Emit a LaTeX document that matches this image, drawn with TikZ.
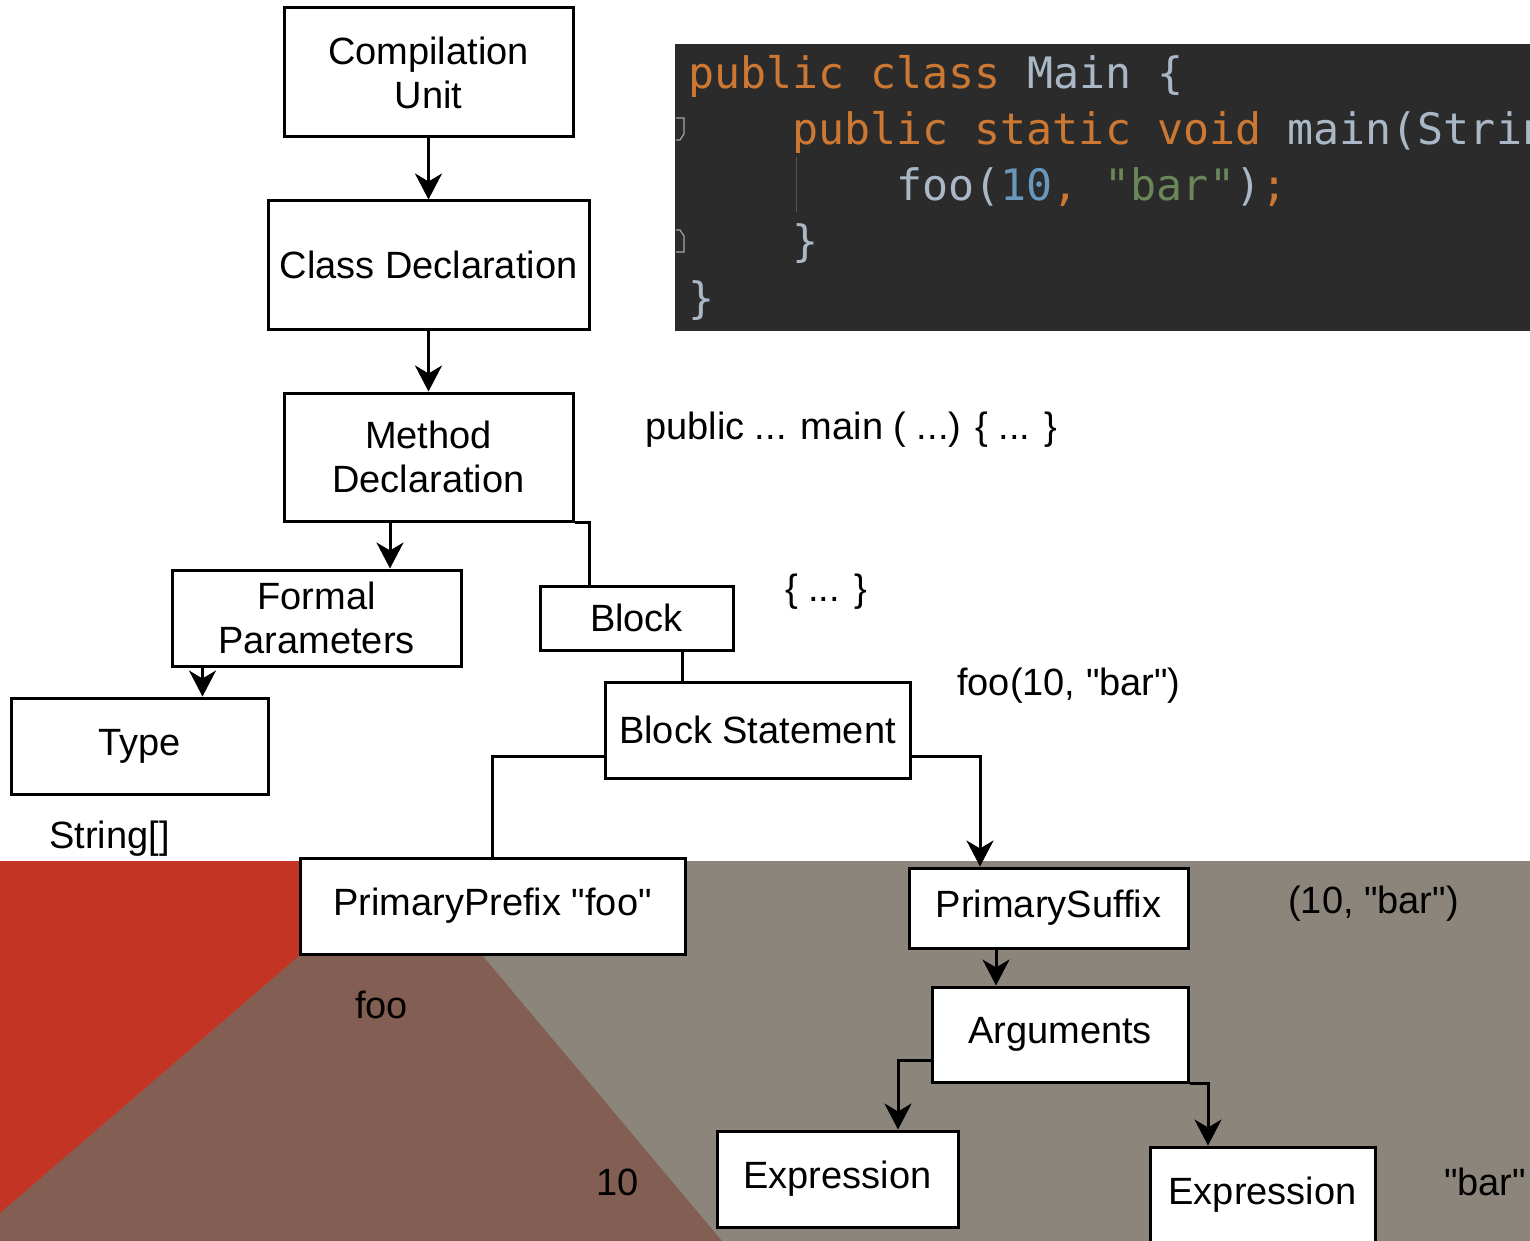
\documentclass[tikz,border=0pt]{standalone}
\usepackage{fontspec}
% straight quotes stay straight: no TeX-style quote ligatures
\setmainfont{Liberation Sans}[Ligatures=TeXOff]
\newfontfamily\codefont{DejaVu Sans Mono}
\usetikzlibrary{arrows.meta}

\definecolor{bgred}{HTML}{C43424}
\definecolor{bgbrown}{HTML}{825F52}
\definecolor{bggray}{HTML}{8C857B}
\definecolor{ide}{HTML}{2B2B2B}
\definecolor{kw}{HTML}{CC7832}
\definecolor{plain}{HTML}{A9B7C6}
\definecolor{num}{HTML}{6897BB}
\definecolor{str}{HTML}{6A8759}

\tikzset{
  astnode/.style={draw, line width=3pt, fill=white, align=center, inner sep=0pt,
    font=\fontsize{38}{44}\selectfont},
  label text/.style={inner sep=0pt, anchor=west, font=\fontsize{38}{44}\selectfont},
  link/.style={line width=3pt},
  arrowlink/.style={line width=3pt, -{Stealth[length=26pt, width=27pt, inset=8pt]}},
  codeline/.style={inner sep=0pt, anchor=base west,
    font=\codefont\fontsize{43.3}{56}\selectfont, text=plain},
}

\begin{document}
\begin{tikzpicture}[x=1pt, y=-1pt]
\useasboundingbox (0,0) rectangle (1530,1241);

% coloured backdrop of the lower part
\fill[bggray] (0,861) rectangle (1530,1241);
\fill[bgbrown] (300,955) -- (482,955) -- (722,1241) -- (0,1241) -- (0,1213) -- cycle;
\fill[bgred] (0,861) -- (300,861) -- (300,955) -- (0,1213) -- cycle;

% source code panel
\begin{scope}
  \clip (675,44) rectangle (1530,331);
  \fill[ide] (675,44) rectangle (1530,331);
  \draw[line width=1pt, ide!80!white] (796,157) -- (796,212);
  \draw[line width=1.2pt, gray!70] (676,118) -- (684,118) -- (684,134) -- (680,140) -- (676,140);
  \draw[line width=1.2pt, gray!70] (676,252) -- (684,252) -- (684,236) -- (680,230) -- (676,230);
  \node[codeline] (c1) at (688,89) {\textcolor{kw}{public class }Main \{};
  \node[codeline] (c2) at (792,145) {\textcolor{kw}{public static void }main(String[] args) \{};
  \node[codeline] (c3) at (896,201) {foo(\textcolor{num}{10}\textcolor{kw}{, }\textcolor{str}{"bar"})\textcolor{kw}{;}};
  \node[codeline] (c4) at (792,257) {\}};
  \node[codeline] (c5) at (688,313) {\}};
\end{scope}

% syntax tree nodes
\node[astnode, minimum width=289pt, minimum height=129pt] (cu) at (428.5,72.5) {Compilation\\Unit};
\node[astnode, minimum width=321pt, minimum height=128pt] (cd) at (428.5,265) {Class Declaration};
\node[astnode, minimum width=289pt, minimum height=128pt] (md) at (428.5,457) {Method\\Declaration};
\node[astnode, minimum width=289pt, minimum height=96pt] (fp) at (316.5,618) {Formal\\Parameters};
\node[astnode, minimum width=257pt, minimum height=96pt] (ty) at (139.5,746) {Type};
\node[astnode, minimum width=193pt, minimum height=64pt] (bl) at (636.5,618) {Block};
\node[astnode, minimum width=305pt, minimum height=96pt] (bs) at (757.5,730) {Block Statement};
\node[astnode, minimum width=385pt, minimum height=96pt] (pp) at (492.5,906) {PrimaryPrefix "foo"};
\node[astnode, minimum width=279pt, minimum height=80pt] (ps) at (1048.5,908) {PrimarySuffix};
\node[astnode, minimum width=256pt, minimum height=95pt] (ar) at (1060,1034.5) {Arguments};
\node[astnode, minimum width=241pt, minimum height=96pt] (e1) at (837.5,1179) {Expression};
\node[astnode, minimum width=225pt, minimum height=96pt] (e2) at (1262.5,1195) {Expression};

% connectors
\draw[arrowlink] (cu.south) -- (cd.north);
\draw[arrowlink] (cd.south) -- (md.north);
\draw[arrowlink] ([xshift=-38.5pt]md.south) -- ([xshift=-38.5pt]md.south |- fp.north);
\draw[link] (md.south east) -| ([xshift=-47.5pt]bl.north);
\draw[arrowlink] ([xshift=32pt]fp.south west) -- ([xshift=32pt]fp.south west |- ty.north);
\draw[link] ([xshift=46pt]bl.south) -- ([xshift=46pt]bl.south |- bs.north);
\draw[link] ([yshift=-26pt]bs.west) -| (pp.north);
\draw[arrowlink] ([yshift=-26pt]bs.east) -| ([xshift=-68.5pt]ps.north);
\draw[arrowlink] ([xshift=-52.5pt]ps.south) -- ([xshift=-52.5pt]ps.south |- ar.north);
\draw[arrowlink] ([yshift=-25.5pt]ar.west) -| ([xshift=60.5pt]e1.north);
\draw[arrowlink] (ar.south east) -| ([xshift=-54.5pt]e2.north);

% source fragments matching each subtree
\node[label text] (t1) at (645,430) {public ... main ( ...) \{ ... \}};
\node[label text] (t2) at (785,592) {\{ ... \}};
\node[label text] (t3) at (957,686) {foo(10, "bar")};
\node[label text] (t4) at (49,839) {String[]};
\node[label text] (t5) at (1288,904) {(10, "bar")};
\node[label text] (t6) at (355,1005) {foo};
\node[label text] (t7) at (596,1182) {10};
\node[label text] (t8) at (1444,1182) {"bar"};
\end{tikzpicture}
\end{document}
